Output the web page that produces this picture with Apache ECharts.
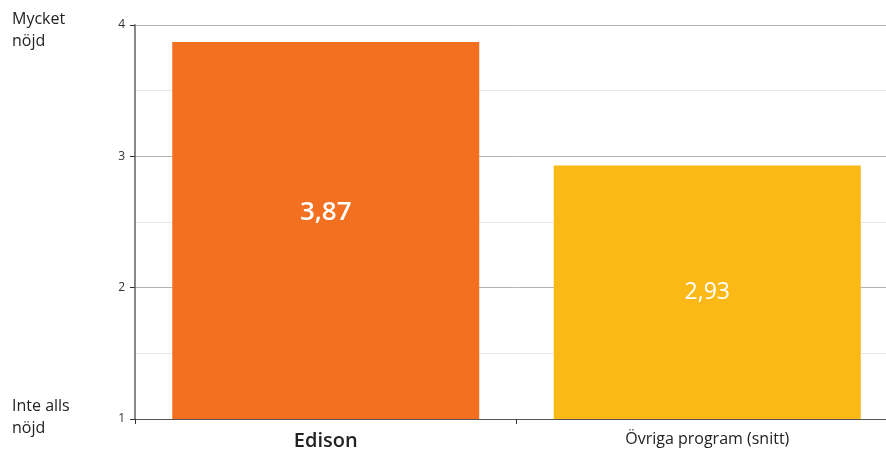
<!DOCTYPE html>
<html>
<head>
<meta charset="utf-8">
<script src="https://cdn.jsdelivr.net/npm/echarts@6/dist/echarts.min.js"></script>
<style>html,body{margin:0;padding:0;background:#fff;overflow:hidden}#c{width:898px;height:457px}</style>
</head>
<body>
<div id="c"></div>
<script>
var categories = ["Edison", "Övriga program (snitt)"];
var values = [3.87, 2.93];
var valueLabels = ["3,87", "2,93"];
var barColors = ["#F37021", "#FBB917"];
var yTicks = [1, 2, 3, 4];
var topLabel = "Mycket\nnöjd";
var bottomLabel = "Inte alls\nnöjd";

var FONT = "Open Sans";
var chart = echarts.init(document.getElementById('c'));
chart.setOption({
  animation: false,
  textStyle: { fontFamily: FONT },
  grid: { left: 135, right: 0, top: 25, bottom: 38 },
  xAxis: {
    type: 'category',
    data: categories,
    axisLine: { lineStyle: { color: '#555', width: 1 } },
    axisTick: { show: true, alignWithLabel: false, length: 5, lineStyle: { color: '#333' } },
    axisLabel: {
      margin: 12,
      fontFamily: FONT,
      color: '#222',
      formatter: function (v, i) { return i === 0 ? '{b|' + v + '}' : '{n|' + v + '}'; },
      rich: {
        b: { fontSize: 20, fontWeight: 600, color: '#222', fontFamily: FONT },
        n: { fontSize: 16, color: '#222', fontFamily: FONT }
      }
    }
  },
  yAxis: {
    type: 'value',
    min: yTicks[0],
    max: yTicks[yTicks.length - 1],
    interval: 1,
    axisLine: { show: true, lineStyle: { color: '#888', width: 2 } },
    axisTick: { show: true, length: 5, lineStyle: { color: '#333' } },
    axisLabel: { fontSize: 12, color: '#333', margin: 10, fontFamily: FONT },
    splitLine: { show: true, lineStyle: { color: '#b4b4b4', width: 1 } },
    minorTick: { show: false, splitNumber: 2 },
    minorSplitLine: { show: true, lineStyle: { color: '#e6e6e6', width: 1 } }
  },
  graphic: [
    { type: 'text', left: 12, top: 8, style: { text: topLabel, fontSize: 16, lineHeight: 22, fill: '#222', fontFamily: FONT } },
    { type: 'text', left: 12, top: 395, style: { text: bottomLabel, fontSize: 16, lineHeight: 22, fill: '#222', fontFamily: FONT } }
  ],
  series: [{
    type: 'bar',
    barWidth: 307,
    data: values.map(function (v, i) {
      return {
        value: v,
        itemStyle: { color: barColors[i] },
        label: i === 0
          ? { offset: [0, -18], fontSize: 26, fontWeight: 600 }
          : { offset: [0, 0], fontSize: 23, fontWeight: 'normal' }
      };
    }),
    label: {
      show: true,
      position: 'inside',
      color: '#fff',
      fontFamily: FONT,
      formatter: function (p) { return valueLabels[p.dataIndex]; }
    }
  }]
});
</script>
</body>
</html>
